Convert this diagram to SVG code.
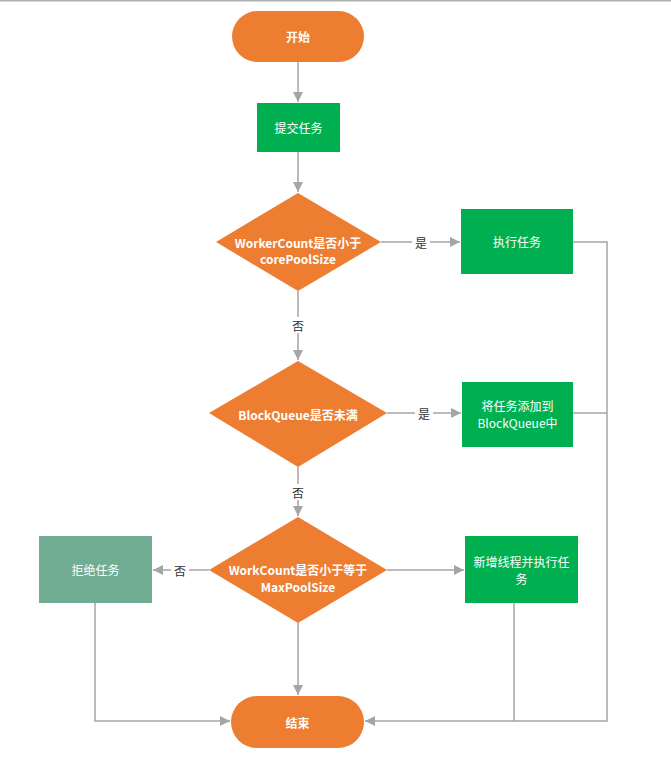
<svg xmlns="http://www.w3.org/2000/svg" width="671" height="760" viewBox="0 0 671 760">
<style>
.t{font-family:"Microsoft YaHei","Noto Sans CJK SC","Noto Sans",sans-serif;font-size:12px;fill:#fff;text-anchor:middle;dominant-baseline:central}
.b{font-weight:bold}
.l{font-family:"Noto Sans CJK SC","Noto Sans",sans-serif;font-size:12px;fill:#333;text-anchor:middle;dominant-baseline:central}
.c{fill:none;stroke:#A5A5A5;stroke-width:1.5}
.o{fill:#ED7D31}
.g{fill:#00B050}
</style>
<defs>
<marker id="a" viewBox="0 0 10 10" refX="10" refY="5" markerWidth="10" markerHeight="10" markerUnits="userSpaceOnUse" orient="auto">
<path d="M0,0 L10,5 L0,10 z" fill="#A5A5A5"/>
</marker>
</defs>
<rect x="0" y="0" width="671" height="1.5" fill="#B0B0B0"/>
<g id="connectors">
<path class="c" d="M298,62 V102" marker-end="url(#a)"/>
<path class="c" d="M298,152 V192" marker-end="url(#a)"/>
<path class="c" d="M381,242 H460" marker-end="url(#a)"/>
<path class="c" d="M298,291 V360" marker-end="url(#a)"/>
<path class="c" d="M387,413 H461" marker-end="url(#a)"/>
<path class="c" d="M298,467 V516" marker-end="url(#a)"/>
<path class="c" d="M209,570 H153" marker-end="url(#a)"/>
<path class="c" d="M387,570 H464" marker-end="url(#a)"/>
<path class="c" d="M298,623 V695" marker-end="url(#a)"/>
<path class="c" d="M95,603 V721 H230" marker-end="url(#a)"/>
<path class="c" d="M573,242 H607 V721 H365" marker-end="url(#a)"/>
<path class="c" d="M573,413 H607"/>
<path class="c" d="M514,603 V721"/>
<rect x="412" y="234" width="18" height="16" fill="#fff"/>
<text class="l" x="421" y="242">是</text>
<rect x="289" y="317" width="18" height="16" fill="#fff"/>
<text class="l" x="298" y="325">否</text>
<rect x="415" y="405" width="18" height="16" fill="#fff"/>
<text class="l" x="424" y="413">是</text>
<rect x="289" y="484" width="18" height="16" fill="#fff"/>
<text class="l" x="298" y="492">否</text>
<rect x="171" y="562" width="18" height="16" fill="#fff"/>
<text class="l" x="180" y="570">否</text>
</g>
<g id="start">
<rect class="o" x="232" y="11" width="132" height="51" rx="25.5"/>
<text class="t b" x="298" y="36.5">开始</text>
</g>
<g id="submit">
<rect class="g" x="257" y="103" width="83" height="49"/>
<text class="t" x="298.5" y="127.5">提交任务</text>
</g>
<g id="d1">
<polygon class="o" points="298,193 381,242 298,291 216,242"/>
<text class="t b" x="298" y="242">WorkerCount是否小于</text>
<text class="t b" x="298" y="258">corePoolSize</text>
</g>
<g id="exec">
<rect class="g" x="461" y="209" width="112" height="65"/>
<text class="t" x="517" y="241.5">执行任务</text>
</g>
<g id="d2">
<polygon class="o" points="298,361 387,413 298,467 209,413"/>
<text class="t b" x="298" y="414">BlockQueue是否未满</text>
</g>
<g id="queue">
<rect class="g" x="462" y="382" width="111" height="65"/>
<text class="t" x="517.5" y="405">将任务添加到</text>
<text class="t" x="517.5" y="422">BlockQueue中</text>
</g>
<g id="d3">
<polygon class="o" points="298,517 387,570 298,623 209,570"/>
<text class="t b" x="298" y="569">WorkCount是否小于等于</text>
<text class="t b" x="298" y="586">MaxPoolSize</text>
</g>
<g id="reject">
<rect x="39" y="536" width="113" height="67" fill="#70AD93"/>
<text class="t" x="95.5" y="569.5">拒绝任务</text>
</g>
<g id="newthread">
<rect class="g" x="465" y="536" width="113" height="67"/>
<text class="t" x="521.5" y="561">新增线程并执行任</text>
<text class="t" x="521.5" y="578">务</text>
</g>
<g id="end">
<rect class="o" x="231" y="696" width="133" height="52" rx="26"/>
<text class="t b" x="297.5" y="722">结束</text>
</g>
</svg>
